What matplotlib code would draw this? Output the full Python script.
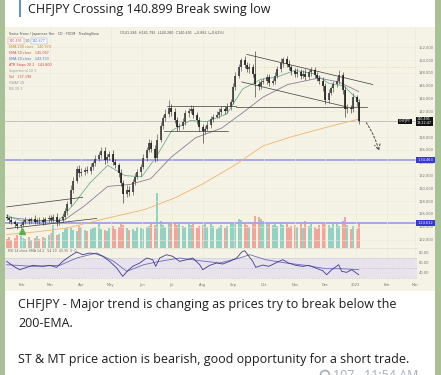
import numpy as np
import pandas as pd
import matplotlib
matplotlib.use("Agg")
import matplotlib.pyplot as plt
import matplotlib.dates as mdates
from matplotlib.patches import Rectangle, Ellipse

W, H = 441, 375

# candles every second business day, closes
first_open = 125.6
closes = [125.3, 125.0, 124.7, 124.4, 124.1, 124.3,
          124.8, 125.0, 124.9, 125.2, 124.8, 125.1, 125.0, 124.7, 125.2, 125.4,
          125.1, 125.6, 124.7, 125.0, 125.6, 126.4, 127.6, 129.8, 131.2, 133.0, 132.4,
          132.6, 132.9, 132.7, 133.4, 133.9, 134.6, 135.2, 135.8, 134.4, 134.9, 135.4,
          134.1, 133.6, 132.4, 130.8, 129.1, 129.8, 129.4, 131.0, 131.8, 132.5, 133.4,
          134.8, 136.0, 137.0, 136.2, 134.8, 137.6, 139.8, 140.9, 141.6, 142.6, 141.9,
          140.7, 139.5, 139.8, 140.3, 141.7, 142.1, 142.4, 141.5, 140.6, 139.6,
          138.9, 139.3, 139.9, 140.8, 141.2, 141.5, 141.9, 142.4, 142.1, 142.7, 143.5, 145.8,
          147.6, 148.9, 150.0, 149.2, 148.6, 148.9, 147.8, 146.2, 146.0, 146.6, 146.8,
          147.3, 146.5, 146.8, 147.6, 148.6, 149.6, 150.1, 149.4, 148.9, 148.3,
          147.8, 148.2, 147.6, 147.9, 147.4, 148.1, 148.4, 147.7, 147.2, 146.8, 145.9,
          143.8, 144.9, 145.6, 146.2, 146.8, 147.7, 145.3, 142.3, 142.6, 142.4, 144.2,
          143.4, 140.5]
# wick lengths above / below the body
wick_hi = [0.4, 0.3, 0.5, 0.3, 0.4, 0.3,
           0.4, 0.5, 0.3, 0.4, 0.6, 0.3, 0.4, 0.5, 0.3, 0.4,
           0.5, 0.4, 0.6, 0.3, 0.5, 0.6, 0.5, 0.7, 0.6, 0.5, 0.6,
           0.5, 0.4, 0.6, 0.5, 0.4, 0.6, 0.5, 0.7, 0.6, 0.4, 0.5,
           0.6, 0.5, 0.4, 0.6, 0.5, 0.7, 0.5, 0.4, 0.6, 0.5, 0.4,
           0.6, 0.5, 0.7, 0.5, 0.6, 0.8, 0.6, 0.5, 0.7, 1.2, 0.5,
           0.6, 0.5, 0.4, 0.6, 0.5, 0.4, 0.6, 0.5, 0.4, 0.5,
           0.5, 0.4, 0.6, 0.5, 0.4, 0.5, 0.6, 0.4, 0.5, 0.6, 0.5, 0.7,
           0.6, 0.5, 0.4, 0.7, 0.5, 0.6, 0.5, 3.6, 0.6, 0.5, 0.4,
           0.6, 0.5, 0.4, 0.6, 0.5, 0.7, 0.4, 0.5, 0.6, 0.4,
           0.5, 0.6, 0.4, 0.5, 0.7, 0.4, 0.5, 0.6, 0.4, 0.5, 0.6,
           0.5, 0.6, 0.4, 0.5, 0.6, 0.7, 0.5, 0.6, 0.5, 0.4, 0.6,
           0.4, 0.5]
wick_lo = [0.3, 0.4, 0.3, 0.5, 0.4, 0.3,
           0.3, 0.4, 0.5, 0.3, 0.4, 0.3, 0.5, 0.4, 0.3, 0.4,
           0.4, 0.3, 0.6, 0.4, 0.3, 0.4, 0.5, 0.4, 0.5, 0.4, 0.6,
           0.4, 0.5, 0.3, 0.4, 0.5, 0.4, 0.3, 0.5, 0.6, 0.4, 0.5,
           0.5, 0.4, 0.6, 0.5, 1.4, 0.5, 0.6, 0.4, 0.5, 0.4, 0.5,
           0.4, 0.5, 0.4, 0.6, 0.7, 0.5, 0.4, 0.5, 0.4, 0.5, 0.6,
           0.5, 0.6, 0.4, 0.5, 0.4, 0.5, 0.4, 0.6, 0.5, 0.6,
           1.8, 0.5, 0.4, 0.5, 0.4, 0.3, 0.5, 0.4, 0.5, 0.4, 0.5, 0.4,
           0.5, 0.4, 0.6, 0.5, 0.4, 0.6, 0.5, 2.0, 0.6, 0.5, 0.4,
           0.5, 0.6, 0.4, 0.5, 0.4, 0.5, 0.6, 0.4, 0.5, 0.6,
           0.4, 0.5, 0.6, 0.4, 0.5, 0.4, 0.6, 0.5, 0.4, 0.5, 0.7,
           0.6, 0.5, 0.4, 0.5, 0.4, 0.5, 0.6, 1.2, 0.5, 0.6, 0.5,
           0.5, 0.4]
volumes = [8, 10, 7, 9, 12, 11, 9, 8, 10, 7, 9, 11, 8, 10, 9, 12,
           14, 22, 12, 13, 15, 18, 20, 19, 17, 16, 21,
           20, 17, 16, 18, 19, 20, 23, 18, 17, 16, 19,
           21, 18, 20, 23, 22, 19, 17, 18, 16, 20, 19,
           18, 20, 21, 24, 22, 54, 26, 22, 20, 23, 24,
           24, 22, 23, 21, 20, 24, 22, 25, 19, 21,
           22, 24, 20, 23, 21, 18, 20, 22, 19, 21, 23, 24,
           25, 28, 27, 24, 22, 20, 23, 31, 30, 28, 26,
           24, 23, 22, 25, 21, 24, 22, 23, 20, 21,
           22, 20, 24, 19, 26, 21, 23, 20, 18, 22, 25,
           24, 22, 20, 23, 25, 21, 26, 30, 22, 18, 21,
           18, 25]
candle_dates = pd.bdate_range("2022-01-17", periods=len(closes), freq="2B")

ema200_dates = ["2022-01-17", "2022-02-15", "2022-03-18", "2022-04-21", "2022-06-04", "2022-07-04",
                "2022-07-31", "2022-09-03", "2022-09-30", "2022-10-30", "2022-11-25", "2022-12-12", "2023-01-04"]
ema200 = [122.8, 123.2, 123.8, 125.1, 126.7, 128.5, 130.6, 133.7, 136.6, 138.1, 139.2, 139.9, 140.8]
ema20_dates = ["2022-01-17", "2022-02-01", "2022-02-20", "2022-03-10", "2022-03-25", "2022-04-10", "2022-04-28",
               "2022-05-15", "2022-06-01", "2022-06-15", "2022-07-01", "2022-07-20", "2022-08-05", "2022-08-25",
               "2022-09-10", "2022-09-28", "2022-10-15", "2022-11-01", "2022-11-20", "2022-12-05", "2022-12-20",
               "2023-01-04"]
ema20 = [125.8, 124.9, 124.9, 125.0, 127.5, 130.8, 133.6, 132.0, 131.8, 134.8, 139.0, 140.6, 140.4, 141.6,
         145.5, 147.0, 147.4, 148.4, 147.9, 146.4, 146.0, 143.7]
ema50_dates = ["2022-01-17", "2022-02-15", "2022-03-15", "2022-04-05", "2022-04-28", "2022-05-20", "2022-06-10",
               "2022-06-30", "2022-07-25", "2022-08-20", "2022-09-10", "2022-09-30", "2022-10-25", "2022-11-25",
               "2022-12-15", "2023-01-04"]
ema50 = [125.5, 125.0, 125.0, 127.3, 130.3, 130.6, 131.5, 134.8, 137.9, 139.4, 141.8, 144.2, 146.2, 147.2,
         146.6, 145.1]

rsi_dates = ["2022-01-17", "2022-01-24", "2022-01-30", "2022-02-06", "2022-02-12", "2022-02-22", "2022-03-01",
             "2022-03-08", "2022-03-14", "2022-03-21", "2022-03-28", "2022-04-03", "2022-04-10", "2022-04-17",
             "2022-04-23", "2022-04-30", "2022-05-07", "2022-05-13", "2022-05-18", "2022-05-23", "2022-05-30",
             "2022-06-06", "2022-06-12", "2022-06-15", "2022-06-19", "2022-06-26", "2022-07-02", "2022-07-09",
             "2022-07-16", "2022-07-22", "2022-07-29", "2022-08-01", "2022-08-08", "2022-08-15", "2022-08-21",
             "2022-08-28", "2022-09-04", "2022-09-09", "2022-09-12", "2022-09-15", "2022-09-20", "2022-09-23",
             "2022-09-30", "2022-10-06", "2022-10-13", "2022-10-20", "2022-10-26", "2022-11-02", "2022-11-09",
             "2022-11-15", "2022-11-22", "2022-11-29", "2022-12-03", "2022-12-08", "2022-12-15", "2022-12-18",
             "2022-12-23", "2022-12-28", "2023-01-04"]
rsi_vals = [62.7, 52.7, 46.0, 50.7, 54.7, 52.7, 54.7, 50.7, 62.7, 72.7, 81.4, 76.0, 79.4, 77.4, 72.7, 62.7,
            49.3, 32.7, 44.0, 52.7, 59.4, 69.4, 66.0, 52.7, 69.4, 76.0, 72.7, 62.7, 66.0, 69.4, 56.0, 46.0,
            54.7, 59.4, 57.4, 62.7, 69.4, 81.4, 84.0, 76.0, 62.7, 50.7, 55.3, 52.7, 59.4, 66.0, 59.4, 54.7,
            52.7, 54.7, 49.3, 44.0, 36.0, 46.0, 56.0, 42.7, 40.7, 46.0, 36.0]
rsi_ma_dates = ["2022-01-17", "2022-02-12", "2022-03-11", "2022-03-28", "2022-04-17", "2022-05-04", "2022-05-17",
                "2022-06-03", "2022-06-19", "2022-07-09", "2022-07-29", "2022-08-18", "2022-09-07", "2022-09-17",
                "2022-10-03", "2022-10-23", "2022-11-12", "2022-12-02", "2022-12-18", "2023-01-04"]
rsi_ma = [56.0, 52.7, 54.7, 69.4, 79.4, 62.7, 42.7, 56.0, 62.7, 69.4, 64.0, 59.4, 69.4, 76.0, 66.0, 59.4,
          54.7, 48.0, 48.0, 46.0]

# hand-drawn lines on the chart: (start date, start price, end date, end price)
trend_lines = [("2022-09-14", 150.9, "2023-01-18", 146.2),
               ("2022-09-09", 146.6, "2022-12-23", 142.7),
               ("2022-09-03", 142.75, "2023-01-12", 142.75),
               ("2022-06-26", 142.8, "2022-09-03", 142.8),
               ("2022-06-23", 138.9, "2022-08-26", 138.9),
               ("2022-01-17", 127.1, "2022-04-03", 128.6),
               ("2022-01-17", 123.7, "2022-04-17", 125.3)]
support_levels = [134.47, 124.6]
support_labels = ["134.463", "124.612"]
last_price = 140.45
price_ticks = [122, 124, 126, 128, 130, 132, 134, 136, 138, 142, 144, 146, 148, 150, 152]

month_ticks = ["2022-02-01", "2022-03-01", "2022-04-01", "2022-05-01", "2022-06-01", "2022-07-01", "2022-08-01",
               "2022-09-01", "2022-10-01", "2022-11-01", "2022-12-01", "2023-01-01", "2023-02-01", "2023-03-01"]
month_labels = ["Feb", "Mar", "Apr", "May", "Jun", "Jul", "Aug", "Sep", "Oct", "Nov", "Dec", "2023", "Feb", "Mar"]


def d(s):
    return mdates.date2num(pd.Timestamp(s))


def box(x0, y0, x1, y1):
    return [x0 / W, 1 - y1 / H, (x1 - x0) / W, (y1 - y0) / H]


fig = plt.figure(figsize=(W / 100, H / 100), dpi=100)
fig.patch.set_facecolor("#a9c196")
for rect, col in [((5, 0, 430, 375), "white"), ((5, 27, 430, 264), "#f5f3e6"), ((19, 0, 2.2, 16.7), "#5d93cf")]:
    x, y, w, h = rect
    fig.patches.append(Rectangle((x / W, 1 - (y + h) / H), w / W, h / H, transform=fig.transFigure,
                                 facecolor=col, edgecolor="none", zorder=-10))

x_left = d("2022-02-01") - 16.7
x_right = d("2022-02-01") + 395.3
xd = mdates.date2num(candle_dates)

# ---- price pane with volume overlay
ax = fig.add_axes(box(5, 27, 417, 247.5))
vol_ax = ax.twinx()
ax.set_zorder(2)
vol_ax.set_zorder(1)
ax.patch.set_visible(False)
vol_ax.patch.set_visible(False)

opens = [first_open] + closes[:-1]
up = [c >= o for o, c in zip(opens, closes)]
vol_cols = ["#93d1c3" if u else "#f1a59b" for u in up]
vol_ax.bar(xd, volumes, width=2.0, color=vol_cols, linewidth=0)
vol_ax.set_ylim(0, 220)
vol_ax.set_yticks([])
vol_ax.set_xlim(x_left, x_right)

ax.set_xlim(x_left, x_right)
ax.set_ylim(120.77, 155.17)
ax.set_xticks([d(m) for m in month_ticks])
ax.set_yticks(price_ticks)
ax.set_yticklabels([f"{v:.3f}" for v in price_ticks])
ax.yaxis.tick_right()
ax.tick_params(axis="y", length=0, labelsize=2.6, colors="#777777", pad=1)
ax.tick_params(axis="x", length=0, labelbottom=False)
ax.grid(True, color="#ebe9dd", linewidth=0.4)
for a in (ax, vol_ax):
    for s in a.spines.values():
        s.set_visible(False)

for lvl in support_levels:
    ax.axhline(lvl, color="#a7a6e6", linewidth=1.4, zorder=1)
ax.axhline(last_price, color="#9a9a9a", linewidth=0.4, zorder=1)
ax.plot([d("2022-09-20"), x_right], [148.9, 148.9], color="#eec48e", linewidth=0.5, linestyle=(0, (1, 1.5)))

ax.plot([d(s) for s in ema200_dates], ema200, color="#f0b56c", linewidth=0.6, zorder=3)
ax.plot([d(s) for s in ema50_dates], ema50, color="#8c7c99", linewidth=0.6, zorder=3)
ax.plot([d(s) for s in ema20_dates], ema20, color="#6fae93", linewidth=0.6, zorder=3)

for x0, p0, x1, p1 in trend_lines:
    ax.plot([d(x0), d(x1)], [p0, p1], color="#3a3a3a", linewidth=0.5, zorder=4)

body_lo = np.minimum(opens, closes)
body_hi = np.maximum(opens, closes)
candle_cols = ["#3a3a3a" if u else "#1c1c1c" for u in up]
ax.vlines(xd, body_lo - np.array(wick_lo), body_hi + np.array(wick_hi), color=candle_cols, linewidth=0.4, zorder=5)
ax.vlines(xd, body_lo, body_hi, color=candle_cols, linewidth=1.2, zorder=5)

ax.plot(d("2022-02-01"), 123.3, marker="^", color="#5bb04f", markersize=4, zorder=6)
ax.annotate("", xy=(d("2023-01-25"), 135.4), xytext=(d("2023-01-10"), 140.6),
            arrowprops=dict(arrowstyle="->", color="#444444", lw=0.7, linestyle=(0, (2, 2)),
                            connectionstyle="arc3,rad=-0.1"))

ytr = ax.get_yaxis_transform()
ax.text(1.0, last_price, "140.491\n13:22:47", transform=ytr, ha="left", va="center", fontsize=2.4,
        color="white", linespacing=1.0, zorder=10,
        bbox=dict(boxstyle="square,pad=0.25", facecolor="#131313", edgecolor="none"))
ax.text(0.985, last_price, "CHFJPY", transform=ytr, ha="right", va="center", fontsize=2.4,
        color="white", zorder=10, bbox=dict(boxstyle="square,pad=0.25", facecolor="#131313", edgecolor="none"))
for lvl, lab in zip(support_levels, support_labels):
    ax.text(1.0, lvl, " " + lab + " ", transform=ytr, ha="left", va="center", fontsize=2.5, color="white",
            zorder=10, bbox=dict(boxstyle="square,pad=0.3", facecolor="#3636d0", edgecolor="none"))

# ---- RSI pane
rsi_ax = fig.add_axes(box(5, 248, 417, 281))
rsi_ax.patch.set_visible(False)
rsi_ax.axhspan(30, 70, color="#e7e2ec", linewidth=0)
for lvl in (30, 50, 70):
    rsi_ax.axhline(lvl, color="#b9b3c8", linewidth=0.4, linestyle=(0, (2, 2)))
rsi_ax.plot([d(s) for s in rsi_ma_dates], rsi_ma, color="#6f6ab8", linewidth=0.6)
rsi_ax.plot([d(s) for s in rsi_dates], rsi_vals, color="#3f3a8f", linewidth=0.6)
rsi_ax.set_xlim(x_left, x_right)
rsi_ax.set_ylim(23.4, 89.4)
rsi_ax.set_yticks([40, 60, 80])
rsi_ax.set_yticklabels(["40.00", "60.00", "80.00"])
rsi_ax.yaxis.tick_right()
rsi_ax.set_xticks([d(m) for m in month_ticks])
rsi_ax.set_xticklabels(month_labels)
rsi_ax.tick_params(length=0, labelsize=2.6, colors="#777777", pad=1.2)
rsi_ax.grid(True, axis="x", color="#ebe9dd", linewidth=0.4)
for s in rsi_ax.spines.values():
    s.set_visible(False)
rsi_ax.spines["top"].set_visible(True)
rsi_ax.spines["top"].set_color("#dedcd0")
rsi_ax.spines["top"].set_linewidth(0.4)
rsi_ax.text(0.008, 0.9, "RSI 14 close SMA 14 2   54.20  43.35  0  0", transform=rsi_ax.transAxes,
            fontsize=2.3, color="#666666", va="center")

# ---- small chart header texts
hdr = [(9, 33.5, "Swiss Franc / Japanese Yen · 1D · FXCM · TradingView", "#555555"),
       (120, 33.5, "O141.286  H141.792  L140.280  C140.491  −0.882 (−0.62%)", "#555555"),
       (9, 46.7, "EMA 200 close   140.970", "#c98a2f"),
       (9, 52.7, "EMA 50 close   145.087", "#c85050"),
       (9, 58.7, "EMA 20 close   143.733", "#4a6fc0"),
       (9, 64.7, "ATR Stops 20 2   143.800", "#d04040"),
       (9, 70.7, "Supertrend 10 3", "#999999"),
       (9, 76.7, "Vol   137.198", "#c85050"),
       (9, 82.7, "VWAP 20", "#999999"),
       (9, 88.7, "BB 20 2", "#999999")]
for x, y, s, c in hdr:
    fig.text(x / W, 1 - y / H, s, fontsize=2.4, color=c, va="center", ha="left")
fig.text(9 / W, 1 - 40.5 / H, "140.491", fontsize=2.4, color="#c85050", va="center",
         bbox=dict(boxstyle="square,pad=0.3", facecolor="white", edgecolor="#d08080", linewidth=0.3))
fig.text(25 / W, 1 - 40.5 / H, "1.0", fontsize=2.4, color="#666666", va="center")
fig.text(32 / W, 1 - 40.5 / H, "140.677", fontsize=2.4, color="#4a6fc0", va="center",
         bbox=dict(boxstyle="square,pad=0.3", facecolor="white", edgecolor="#8090d0", linewidth=0.3))

# ---- message texts
msg = dict(fontsize=9, family="Open Sans", color="#1d1d1d", va="baseline")
fig.text(28.3 / W, 1 - 13.3 / H, "CHFJPY Crossing 140.899 Break swing low", **msg)
fig.text(18.3 / W, 1 - 308.3 / H, "CHFJPY - Major trend is changing as prices try to break below the", **msg)
fig.text(18.3 / W, 1 - 326.7 / H, "200-EMA.", **msg)
fig.text(18.3 / W, 1 - 363.3 / H, "ST & MT price action is bearish, good opportunity for a short trade.", **msg)
fig.text(333 / W, 1 - 369 / H, "107   11:54 AM", fontsize=9, family="Open Sans", color="#a3adb7", va="top")
fig.patches.append(Ellipse((325 / W, 1 - 375 / H), 9 / W, 9 / H, transform=fig.transFigure,
                           facecolor="none", edgecolor="#a3adb7", linewidth=1.2))

fig.savefig("out.png", dpi=100)
